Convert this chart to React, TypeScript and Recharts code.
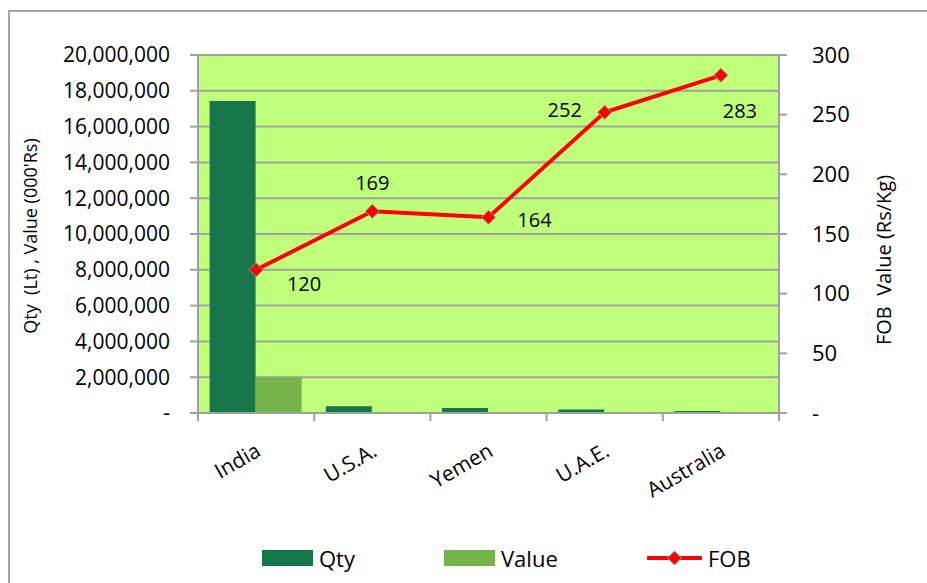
import React from 'react';
import { ComposedChart, Bar, Line, XAxis, YAxis, CartesianGrid, LabelList } from 'recharts';

const countries = ['India', 'U.S.A.', 'Yemen', 'U.A.E.', 'Australia'];
const qty = [17430000, 380000, 280000, 190000, 110000];
const value = [1990000, 30000, 25000, 20000, 12000];
const fob = [120, 169, 164, 252, 283];
const leftTicks = [0, 2000000, 4000000, 6000000, 8000000, 10000000, 12000000, 14000000, 16000000, 18000000, 20000000];
const rightTicks = [0, 50, 100, 150, 200, 250, 300];

const data = countries.map((c, i) => ({ country: c, qty: qty[i], value: value[i], fob: fob[i] }));

// where each FOB label sits relative to its point
const labelOffsets = [
  { dx: 48, dy: 14 },
  { dx: 0, dy: -29 },
  { dx: 46, dy: 2 },
  { dx: -40, dy: -3 },
  { dx: 19, dy: 35 },
];

const FONT = '"Open Sans", sans-serif';
const PLOT_LEFT = 198;
const PLOT_RIGHT = 779;
const BAND = (PLOT_RIGHT - PLOT_LEFT) / countries.length;

const fmtLeft = (v: number) => (v === 0 ? '-' : v.toLocaleString('en-US'));
const fmtRight = (v: number) => (v === 0 ? '-' : String(v));

const Diamond = (props: any) => {
  const { cx, cy } = props;
  if (cx == null || cy == null) return null;
  const r = 7;
  return (
    <polygon
      points={`${cx},${cy - r} ${cx + r},${cy} ${cx},${cy + r} ${cx - r},${cy}`}
      fill="#ff0000"
      stroke="#9a9a9a"
      strokeWidth={1}
    />
  );
};

const CountryTick = (props: any) => {
  const { x, y, payload, index } = props;
  const last = index === countries.length - 1;
  const tx = x + 6;
  const ty = y + 34;
  return (
    <g>
      <line x1={x - BAND / 2} y1={y - 8} x2={x - BAND / 2} y2={y} stroke="#a0a0a0" strokeWidth={2} />
      {last && <line x1={x + BAND / 2} y1={y - 8} x2={x + BAND / 2} y2={y} stroke="#a0a0a0" strokeWidth={2} />}
      <text
        x={tx}
        y={ty}
        textAnchor="end"
        transform={`rotate(-30, ${tx}, ${ty})`}
        fontFamily={FONT}
        fontSize={21}
        fill="#000"
      >
        {payload.value}
      </text>
    </g>
  );
};

const FobLabel = (props: any) => {
  const { x, y, value, index } = props;
  const o = labelOffsets[index] || { dx: 0, dy: 0 };
  return (
    <text
      x={x + o.dx}
      y={y + o.dy}
      textAnchor="middle"
      dominantBaseline="central"
      fontFamily={FONT}
      fontSize={20}
      fill="#000"
    >
      {value}
    </text>
  );
};

const LeftTitle = (props: any) => {
  const { viewBox } = props;
  const cx = 30;
  const cy = viewBox.y + viewBox.height / 2 + 2;
  return (
    <text
      x={cx}
      y={cy}
      textAnchor="middle"
      dominantBaseline="central"
      transform={`rotate(-90, ${cx}, ${cy})`}
      fontFamily={FONT}
      fontSize={18}
      fill="#000"
      style={{ whiteSpace: 'pre' }}
    >
      {"Qty  (Lt) , Value (000'Rs)"}
    </text>
  );
};

const RightTitle = (props: any) => {
  const { viewBox } = props;
  const cx = 883;
  const cy = viewBox.y + viewBox.height / 2 + 26;
  return (
    <text
      x={cx}
      y={cy}
      textAnchor="middle"
      dominantBaseline="central"
      transform={`rotate(-90, ${cx}, ${cy})`}
      fontFamily={FONT}
      fontSize={20}
      fill="#000"
      style={{ whiteSpace: 'pre' }}
    >
      {'FOB  Value (Rs/Kg)'}
    </text>
  );
};

const legendItems = [
  { name: 'Qty', color: '#17754a', kind: 'bar', left: 262 },
  { name: 'Value', color: '#77b34b', kind: 'bar', left: 444 },
  { name: 'FOB', color: '#ff0000', kind: 'line', left: 647 },
];

const App = () => {
  return (
    <div style={{ position: 'absolute', left: 0, top: 0, width: 927, height: 583, background: '#fff' }}>
      <div
        style={{
          position: 'absolute',
          left: 8,
          top: 10,
          right: 0,
          bottom: 0,
          borderLeft: '2px solid #a6a6a6',
          borderTop: '2px solid #a6a6a6',
        }}
      />
      <div style={{ position: 'absolute', left: 0, top: 0 }}>
        <ComposedChart
          width={927}
          height={583}
          data={data}
          margin={{ top: 55, right: 48, left: 10, bottom: 110 }}
          barCategoryGap="10%"
          barGap={0}
        >
          <CartesianGrid
            vertical={false}
            horizontalValues={leftTicks}
            yAxisId="left"
            fill="#c0ff7a"
            fillOpacity={1}
            stroke="#a0a0a0"
            strokeWidth={2}
          />
          <XAxis
            dataKey="country"
            height={60}
            tickLine={false}
            axisLine={{ stroke: '#a0a0a0', strokeWidth: 2 }}
            tick={<CountryTick />}
            interval={0}
          />
          <YAxis
            yAxisId="left"
            width={188}
            domain={[0, 20000000]}
            ticks={leftTicks}
            tickFormatter={fmtLeft}
            tickSize={8}
            tickMargin={20}
            axisLine={{ stroke: '#a0a0a0', strokeWidth: 2 }}
            tickLine={{ stroke: '#a0a0a0', strokeWidth: 2 }}
            tick={{ fill: '#000', fontFamily: FONT, fontSize: 21 }}
            label={{ content: LeftTitle }}
          />
          <YAxis
            yAxisId="right"
            orientation="right"
            width={100}
            domain={[0, 300]}
            ticks={rightTicks}
            tickFormatter={fmtRight}
            tickSize={8}
            tickMargin={25}
            axisLine={{ stroke: '#a0a0a0', strokeWidth: 2 }}
            tickLine={{ stroke: '#a0a0a0', strokeWidth: 2 }}
            tick={{ fill: '#000', fontFamily: FONT, fontSize: 22, textAnchor: 'start' }}
            label={{ content: RightTitle }}
          />
          <Bar yAxisId="left" dataKey="qty" fill="#17754a" isAnimationActive={false} />
          <Bar yAxisId="left" dataKey="value" fill="#77b34b" isAnimationActive={false} />
          <Line
            yAxisId="right"
            dataKey="fob"
            type="linear"
            stroke="#ff0000"
            strokeWidth={4}
            dot={<Diamond />}
            activeDot={false}
            isAnimationActive={false}
          >
            <LabelList dataKey="fob" content={FobLabel} />
          </Line>
        </ComposedChart>
      </div>
      {legendItems.map((it) => (
        <div
          key={it.name}
          style={{ position: 'absolute', left: it.left, top: 544, height: 28, display: 'flex', alignItems: 'center' }}
        >
          {it.kind === 'bar' ? (
            <div style={{ width: 51, height: 16, background: it.color }} />
          ) : (
            <svg width={55} height={16}>
              <line x1={1} y1={8} x2={54} y2={8} stroke={it.color} strokeWidth={4} strokeLinecap="round" />
              <polygon points="27.5,1 34.5,8 27.5,15 20.5,8" fill={it.color} stroke="#9a9a9a" strokeWidth={1} />
            </svg>
          )}
          <span style={{ marginLeft: 6, fontFamily: FONT, fontSize: 22, color: '#000' }}>{it.name}</span>
        </div>
      ))}
    </div>
  );
};

export default App;
